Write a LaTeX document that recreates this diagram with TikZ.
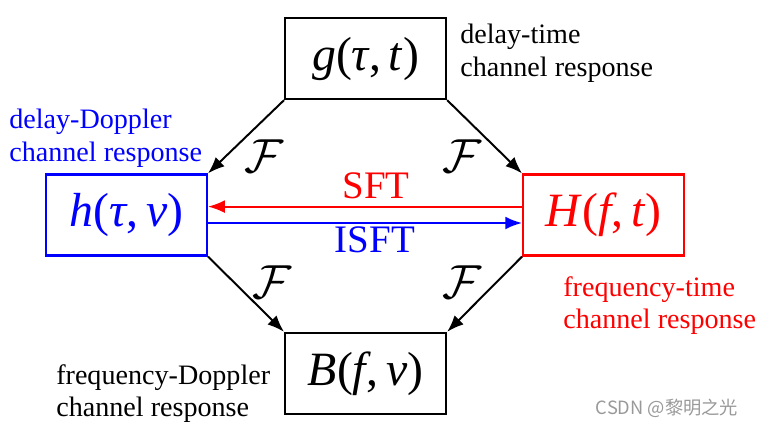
\RequirePackage{fix-cm}
\documentclass[tikz,border=0pt]{standalone}
\usepackage{fontspec}
\setmainfont{Liberation Serif}
\newfontfamily\cjkfont{Noto Sans CJK SC}
\usetikzlibrary{arrows.meta}

\newcommand{\vi}[1]{\textit{#1}}

\tikzset{
  respbox/.style={draw, line width=1.5pt, minimum width=4.025cm, minimum height=2.025cm,
    inner sep=0pt, font=\fontsize{34}{38}\selectfont},
  resplabel/.style={align=left, inner sep=0pt, anchor=north west, font=\fontsize{20}{23}\selectfont},
  trans/.style={line width=1.4pt, -{Latex[length=4.2mm,width=3.2mm]}},
  flabel/.style={font=\fontsize{34}{38}\selectfont},
  sftlabel/.style={font=\fontsize{27.7}{30}\selectfont},
}

\begin{document}
\begin{tikzpicture}
  \useasboundingbox (0,0) rectangle (19.15,10.675);
  % the four responses
  \node[respbox] (g) at (9.14,9.21) {\vi{g}(\vi{τ},\,\vi{t})};
  \node[respbox, blue] (h) at (3.16,5.3) {\vi{h}(\vi{τ},\,\vi{ν})};
  \node[respbox, red] (H) at (15.09,5.3) {\vi{H}(\vi{f},\,\vi{t})};
  \node[respbox] (B) at (9.14,1.34) {\vi{B}(\vi{f},\,\vi{ν})};
  % names
  \node[resplabel] (glab) at (11.5,10.075) {delay-time\\channel response};
  \node[resplabel, blue] (hlab) at (0.225,7.95) {delay-Doppler\\channel response};
  \node[resplabel, red] (Hlab) at (14.075,3.775) {frequency-time\\channel response};
  \node[resplabel] (Blab) at (1.4,1.575) {frequency-Doppler\\channel response};
  % Fourier transforms
  \draw[trans] (g.south west) -- (h.north east)
    node[midway, flabel, xshift=0.45cm, yshift=-0.48cm] {$\mathcal{F}$};
  \draw[trans] (g.south east) -- (H.north west)
    node[midway, flabel, xshift=-0.56cm, yshift=-0.48cm] {$\mathcal{F}$};
  \draw[trans] (h.south east) -- (B.north west)
    node[midway, flabel, xshift=0.65cm, yshift=0.3cm] {$\mathcal{F}$};
  \draw[trans] (H.south west) -- (B.north east)
    node[midway, flabel, xshift=-0.56cm, yshift=0.3cm] {$\mathcal{F}$};
  % SFT and ISFT
  \draw[trans, red] ([yshift=0.21cm]H.west) -- ([yshift=0.21cm]h.east)
    node[midway, above, sftlabel, inner sep=5pt, xshift=0.28cm] {SFT};
  \draw[trans, blue] ([yshift=-0.2cm]h.east) -- ([yshift=-0.2cm]H.west)
    node[midway, below, sftlabel, inner sep=2pt, xshift=0.25cm] {ISFT};
  % watermark
  \node[text=gray!80, font=\cjkfont\fontsize{13}{15}\selectfont] (mark) at (16.675,0.475) {CSDN @黎明之光};
\end{tikzpicture}
\end{document}
